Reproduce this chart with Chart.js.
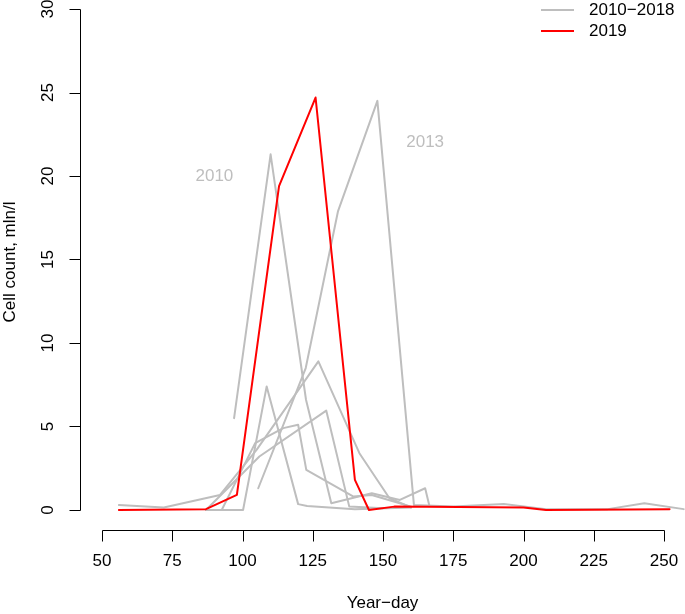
<!DOCTYPE html>
<html><head><meta charset="utf-8">
<script src="https://cdn.jsdelivr.net/npm/chart.js@4"></script>
<style>html,body{margin:0;padding:0;background:#fff;overflow:hidden;}</style>
</head><body>
<canvas id="c" width="685" height="614"></canvas>
<script>
// ---- data (year-day, cell count mln/l) ----
const xTicks = [50, 75, 100, 125, 150, 175, 200, 225, 250];
const xTickLabels = ['50','75','100','125','150','175','200','225','250'];
const yTicks = [0, 5, 10, 15, 20, 25, 30];
const yTickLabels = ['0','5','10','15','20','25','30'];

const days2019 = [56, 87, 98, 113, 126, 140, 145, 154, 200, 208, 252];
const vals2019 = [0, 0.05, 0.9, 19.4, 24.7, 1.8, 0, 0.2, 0.15, 0, 0.05];

const days2010 = [97, 110, 122.6, 131.6, 146, 156, 165, 166.5];
const vals2010 = [5.5, 21.3, 6.6, 0.4, 1.0, 0.6, 1.3, 0.25];

const days2013 = [105.6, 122.5, 134, 148, 161, 175, 193, 208, 230, 243, 257];
const vals2013 = [1.3, 8.5, 17.9, 24.5, 0.3, 0.2, 0.35, 0.05, 0.05, 0.4, 0.05];

const daysGrayA = [87, 100.2, 108.6, 119.8, 123, 140, 160];
const valsGrayA = [0, 0, 7.4, 0.35, 0.24, 0.05, 0.15];

const daysGrayB = [56, 72, 92, 105, 127, 141.6, 152.3, 160];
const valsGrayB = [0.3, 0.15, 0.9, 3.6, 8.9, 3.4, 0.7, 0.15];

const daysGrayC = [87, 106, 129.8, 138, 150];
const valsGrayC = [0, 3.2, 5.95, 0.2, 0.1];

const daysGrayD = [92.6, 104.5, 114.5, 119.8, 122.7, 139.5, 146, 152, 160];
const valsGrayD = [0, 4.0, 4.9, 5.1, 2.4, 0.8, 0.9, 0.6, 0.2];

const grayDays = [days2010, days2013, daysGrayA, daysGrayB, daysGrayC, daysGrayD];
const grayVals = [vals2010, vals2013, valsGrayA, valsGrayB, valsGrayC, valsGrayD];

const legendLabels = ['2010\u22122018', '2019'];
const annotations = [{x: 90, y: 20, text: '2010'}, {x: 165, y: 22, text: '2013'}];

const GRAY = '#BEBEBE', RED = '#FF0000';
const FONT = '17px "Liberation Sans", Arial, Helvetica, sans-serif';

const toPts = (d, v) => d.map((x, i) => ({x, y: v[i]}));
const datasets = [{data: toPts(days2019, vals2019), borderColor: RED, borderWidth: 2, order: 0}];
grayDays.forEach((d, i) => datasets.push({data: toPts(d, grayVals[i]), borderColor: GRAY, borderWidth: 2, order: 1}));

const rAxes = {
  id: 'rAxes',
  afterDraw(chart) {
    const {ctx, chartArea, scales: {x, y}} = chart;
    ctx.save();
    ctx.strokeStyle = '#000'; ctx.fillStyle = '#000'; ctx.lineWidth = 1;
    ctx.font = FONT;
    // x axis
    const ay = Math.round(chartArea.bottom) + 0.5;
    ctx.beginPath();
    ctx.moveTo(Math.round(x.getPixelForValue(xTicks[0])) + 0.5, ay);
    ctx.lineTo(Math.round(x.getPixelForValue(xTicks[xTicks.length - 1])) + 0.5, ay);
    xTicks.forEach(t => { const px = Math.round(x.getPixelForValue(t)) + 0.5; ctx.moveTo(px, ay); ctx.lineTo(px, ay + 11); });
    ctx.stroke();
    ctx.textAlign = 'center'; ctx.textBaseline = 'middle';
    xTicks.forEach((t, i) => ctx.fillText(xTickLabels[i], x.getPixelForValue(t), ay + 31));
    ctx.fillText('Year\u2212day', (chartArea.left + chartArea.right) / 2, 603);
    // y axis
    const ax = Math.round(chartArea.left) + 0.5;
    ctx.beginPath();
    ctx.moveTo(ax, Math.round(y.getPixelForValue(yTicks[0])) + 0.5);
    ctx.lineTo(ax, Math.round(y.getPixelForValue(yTicks[yTicks.length - 1])) + 0.5);
    yTicks.forEach(t => { const py = Math.round(y.getPixelForValue(t)) + 0.5; ctx.moveTo(ax, py); ctx.lineTo(ax - 11, py); });
    ctx.stroke();
    yTicks.forEach((t, i) => {
      ctx.save(); ctx.translate(ax - 32, y.getPixelForValue(t)); ctx.rotate(-Math.PI / 2);
      ctx.fillText(yTickLabels[i], 0, 0); ctx.restore();
    });
    ctx.save(); ctx.translate(10, 262); ctx.rotate(-Math.PI / 2);
    ctx.fillText('Cell count, mln/l', 0, 0); ctx.restore();
    // annotations
    ctx.fillStyle = GRAY;
    annotations.forEach(a => ctx.fillText(a.text, x.getPixelForValue(a.x), y.getPixelForValue(a.y)));
    // legend
    const cols = [GRAY, RED];
    legendLabels.forEach((lab, i) => {
      const ly = 10 + i * 21;
      ctx.strokeStyle = cols[i]; ctx.lineWidth = 2;
      ctx.beginPath(); ctx.moveTo(541, ly); ctx.lineTo(574, ly); ctx.stroke();
      ctx.fillStyle = '#000'; ctx.textAlign = 'left';
      ctx.fillText(lab, 589, ly);
    });
    ctx.restore();
  }
};

new Chart(document.getElementById('c'), {
  type: 'line',
  data: {datasets},
  options: {
    responsive: false, animation: false,
    layout: {padding: {left: 80, right: 0, top: 0, bottom: 84}},
    scales: {
      x: {type: 'linear', min: 42.17, max: 257.47, display: false},
      y: {type: 'linear', min: -1.2, max: 30.54, display: false}
    },
    elements: {point: {radius: 0}, line: {tension: 0, borderJoinStyle: 'round', borderCapStyle: 'round'}},
    plugins: {legend: {display: false}, tooltip: {enabled: false}}
  },
  plugins: [rAxes]
});
</script>
</body></html>
